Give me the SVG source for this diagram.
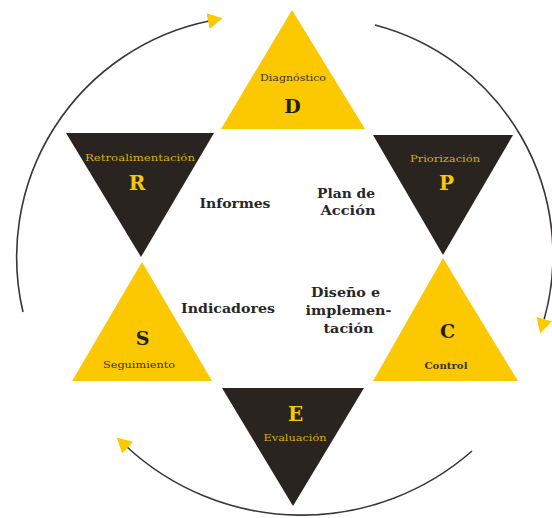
<svg xmlns="http://www.w3.org/2000/svg" width="552" height="518" viewBox="0 0 552 518">
  <style>
    .up { fill: #FCC800; }
    .down { fill: #2A2421; }
    .cycle { fill: none; stroke: #3A3636; stroke-width: 1.6; marker-end: url(#head); }
    .tag-dark { font-family: "DejaVu Serif", "Liberation Serif", serif; font-size: 10px; fill: #3B3320; text-anchor: middle; }
    .tag-light { font-family: "DejaVu Serif", "Liberation Serif", serif; font-size: 10px; fill: #D4AE12; text-anchor: middle; }
    .key-dark { font-family: "DejaVu Serif", "Liberation Serif", serif; font-weight: bold; font-size: 19px; fill: #221E1B; text-anchor: middle; }
    .key-light { font-family: "DejaVu Serif", "Liberation Serif", serif; font-weight: bold; font-size: 20px; fill: #F5C800; text-anchor: middle; }
    .mid { font-family: "DejaVu Serif", "Liberation Serif", serif; font-weight: bold; font-size: 13px; fill: #2A2626; text-anchor: middle; }
  </style>
  <defs>
    <marker id="head" viewBox="0 0 15 16" refX="1" refY="8" markerWidth="15" markerHeight="16" markerUnits="userSpaceOnUse" orient="auto">
      <path d="M0,0 L15,8 L0,16 Z" fill="#FCC800"/>
    </marker>
  </defs>

  <rect width="552" height="518" fill="#FFFFFF"/>

  <!-- cycle arrows around the star -->
  <g id="connectors">
    <path class="cycle" d="M23,312 A241,241 0 0 1 209,21"/>
    <path class="cycle" d="M375,25 A238,238 0 0 1 544,320"/>
    <path class="cycle" d="M472,451 A258,258 0 0 1 127,447"/>
  </g>

  <g id="node-D">
    <polygon class="up" points="292,10 365,129 221,129"/>
    <text class="tag-dark" x="293" y="81" textLength="66" lengthAdjust="spacingAndGlyphs">Diagnóstico</text>
    <text class="key-dark" x="292.5" y="112.5">D</text>
  </g>

  <g id="node-R">
    <polygon class="down" points="66,133 214,133 141,257"/>
    <text class="tag-light" x="140" y="161" textLength="110" lengthAdjust="spacingAndGlyphs">Retroalimentación</text>
    <text class="key-light" x="137" y="190">R</text>
  </g>

  <g id="node-P">
    <polygon class="down" points="373,135 513,135 443,255"/>
    <text class="tag-light" x="445" y="162" textLength="70" lengthAdjust="spacingAndGlyphs">Priorización</text>
    <text class="key-light" x="446.5" y="190">P</text>
  </g>

  <g id="node-S">
    <polygon class="up" points="142,262 212,381 72,381"/>
    <text class="key-dark" x="142.5" y="345">S</text>
    <text class="tag-dark" x="139" y="368" textLength="72" lengthAdjust="spacingAndGlyphs">Seguimiento</text>
  </g>

  <g id="node-C">
    <polygon class="up" points="443,258 518,381 373,381"/>
    <text class="key-dark" x="447.5" y="338">C</text>
    <text class="tag-dark" x="446" y="369" textLength="43" lengthAdjust="spacingAndGlyphs" font-weight="bold">Control</text>
  </g>

  <g id="node-E">
    <polygon class="down" points="222,388 364,388 293,506"/>
    <text class="key-light" x="295.5" y="421">E</text>
    <text class="tag-light" x="295" y="441" textLength="63" lengthAdjust="spacingAndGlyphs">Evaluación</text>
  </g>

  <!-- labels inside the hexagon -->
  <g id="inner-labels">
    <text class="mid" x="235" y="208" textLength="71" lengthAdjust="spacingAndGlyphs">Informes</text>
    <text class="mid" x="346" y="198" textLength="58" lengthAdjust="spacingAndGlyphs">Plan de</text>
    <text class="mid" x="348" y="215" textLength="55" lengthAdjust="spacingAndGlyphs">Acción</text>
    <text class="mid" x="228" y="312.5" textLength="94" lengthAdjust="spacingAndGlyphs">Indicadores</text>
    <text class="mid" x="345.5" y="297" textLength="69" lengthAdjust="spacingAndGlyphs">Diseño e</text>
    <text class="mid" x="348.5" y="315" textLength="86" lengthAdjust="spacingAndGlyphs">implemen-</text>
    <text class="mid" x="348.5" y="333" textLength="50" lengthAdjust="spacingAndGlyphs">tación</text>
  </g>
</svg>
